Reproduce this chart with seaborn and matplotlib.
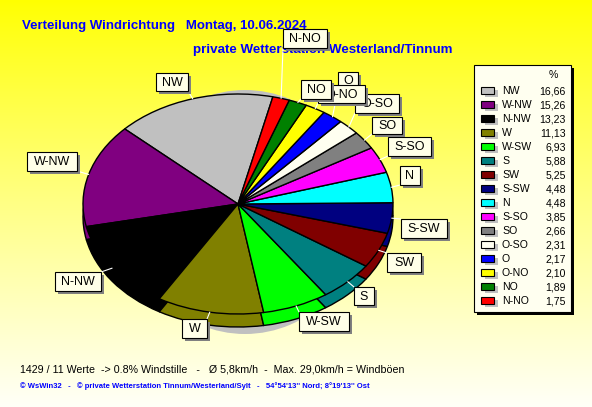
import numpy as np
import matplotlib
matplotlib.use("Agg")
import matplotlib.pyplot as plt
from matplotlib.patches import Rectangle
import seaborn as sns

sns.set_theme(style="white")
plt.rcParams['font.family'] = ['Liberation Sans', 'DejaVu Sans']

W, H = 592, 407

directions = ["NW","W-NW","N-NW","W","W-SW","S","SW","S-SW","N","S-SO","SO","O-SO","O","O-NO","NO","N-NO"]
values = [16.66,15.26,13.23,11.13,6.93,5.88,5.25,4.48,4.48,3.85,2.66,2.31,2.17,2.10,1.89,1.75]
value_labels = ["16,66","15,26","13,23","11,13","6,93","5,88","5,25","4,48","4,48","3,85","2,66","2,31","2,17","2,10","1,89","1,75"]
colors = ["#C0C0C0","#800080","#000000","#808000","#00FF00","#008080","#800000","#000080",
          "#00FFFF","#FF00FF","#808080","#FFFFF0","#0000FF","#FFFF00","#008000","#FF0000"]
palette = sns.color_palette(colors)

# label boxes in pixels: left, top, right, bottom (drawn in this order)
label_boxes = {
    "NW": (156,73,188,91), "W-NW": (27,152,77,171), "N-NW": (55,272,101,291),
    "W": (182,319,207,338), "W-SW": (299,312,349,331), "S": (354,287,374,305),
    "SW": (387,253,421,272), "S-SW": (401,219,447,238), "N": (400,166,420,185),
    "S-SO": (388,137,431,156), "SO": (372,117,402,134), "O-SO": (355,94,399,113),
    "O": (338,72,358,90), "O-NO": (318,85,365,103), "NO": (301,80,331,99),
    "N-NO": (283,29,327,48),
}

fig = plt.figure(figsize=(W/100, H/100), dpi=100)

def px_axes(l, t, r, b, z):
    ax = fig.add_axes([l/W, 1-b/H, (r-l)/W, (b-t)/H], zorder=z)
    ax.set_axis_off()
    return ax

# background gradient
bg = px_axes(0, 0, W, H, 0)
grad = np.linspace(0, 1, 256).reshape(-1, 1)
grad = grad**0.9
img = np.dstack([np.ones_like(grad), np.ones_like(grad), grad*0.97])
bg.imshow(img, aspect="auto", extent=(0, 1, 0, 1))

CX, CY, RX, RY, DEPTH = 238, 204, 155, 110, 13
M = 1.03

def pie_layer(cx, cy, rx, ry, z, vals, cols, lw):
    ax = px_axes(cx-rx*M, cy-ry*M, cx+rx*M, cy+ry*M, z)
    wedges, _ = ax.pie(vals, colors=cols, startangle=77, counterclock=True, radius=1,
                       wedgeprops=dict(edgecolor="black", linewidth=lw))
    ax.set_aspect("auto")
    ax.set_xlim(-M, M)
    ax.set_ylim(-M, M)
    return wedges

pie_layer(245, 212, 118, 122, 1, [1], ["#C0C0C0"], 0)
pie_layer(CX, CY+DEPTH, RX, RY, 2, values, palette, 1.0)
top = pie_layer(CX, CY, RX, RY, 3, values, palette, 1.0)

ov = px_axes(0, 0, W, H, 4)
ov.set_xlim(0, W)
ov.set_ylim(H, 0)

BLUE = "#0000FF"
ov.text(22, 26, "Verteilung Windrichtung   Montag, 10.06.2024", color=BLUE, fontsize=9.5,
        fontweight="bold", va="center", ha="left", zorder=1)
ov.text(193, 50, "private Wetterstation Westerland/Tinnum", color=BLUE, fontsize=9.6,
        fontweight="bold", va="center", ha="left", zorder=1)

# leader lines from each wedge to its label
for name, w in zip(directions, top):
    l, t, r, b = label_boxes[name]
    a = np.deg2rad((w.theta1 + w.theta2) / 2)
    x0, y0 = CX + RX*np.cos(a), CY - RY*np.sin(a)
    x1, y1 = np.clip(x0, l, r), np.clip(y0, t, b)
    ov.plot([x0, x1], [y0, y1], color="white", lw=0.8, zorder=2)

# label boxes
for i, name in enumerate(directions):
    l, t, r, b = label_boxes[name]
    z = 3 + i*0.01
    ov.add_patch(Rectangle((l+3, t+3), r-l, b-t, fc="#808080", ec="none", zorder=z))
    ov.add_patch(Rectangle((l, t), r-l, b-t, fc="#FFFFE8", ec="black", lw=0.8, zorder=z+0.001))
    ov.text((l+r)/2, (t+b)/2+0.5, name, fontsize=9, color="black", ha="center", va="center", zorder=z+0.002)

# legend panel
ov.add_patch(Rectangle((477, 68), 97, 247, fc="black", ec="none", zorder=5))
ov.add_patch(Rectangle((474, 65), 97, 247, fc="#FFFFF0", ec="black", lw=0.8, zorder=5.1))
ov.text(553, 75, "%", fontsize=7.6, color="black", ha="center", va="center", zorder=5.2)
for i, (name, lab, c) in enumerate(zip(directions, value_labels, palette)):
    y = 91 + i*14
    ov.add_patch(Rectangle((485, y-1), 13, 7, fc="#C0C0C0", ec="none", zorder=5.2))
    ov.add_patch(Rectangle((481, y-4), 13, 7, fc=c, ec="black", lw=0.8, zorder=5.3))
    ov.text(502, y, name, fontsize=7.6, color="black", ha="left", va="center", zorder=5.3)
    ov.text(566, y, lab, fontsize=7.6, color="black", ha="right", va="center", zorder=5.3)

ov.text(20, 369, "1429 / 11 Werte  -> 0.8% Windstille   -   Ø 5,8km/h  -  Max. 29,0km/h = Windböen",
        fontsize=7.7, color="black", ha="left", va="center")
ov.text(20, 386, "© WsWin32   -   © private Wetterstation Tinnum/Westerland/Sylt   -   54°54'13'' Nord; 8°19'13'' Ost",
        fontsize=5.5, color=BLUE, fontweight="bold", ha="left", va="center")

fig.savefig("out.png", dpi=100)
